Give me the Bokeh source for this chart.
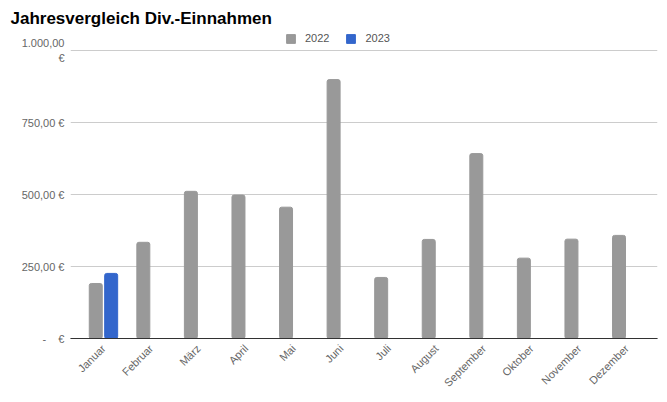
import math
from bokeh.plotting import figure
from bokeh.models import (ColumnDataSource, Range1d, FixedTicker, Legend, LegendItem, Span, Title)
from bokeh.embed import file_html
from bokeh.resources import INLINE

months = ["Januar", "Februar", "März", "April", "Mai", "Juni", "Juli",
          "August", "September", "Oktober", "November", "Dezember"]
values_2022 = [191, 334, 511, 498, 456, 899, 212, 344, 642, 279, 345, 358]
values_2023 = [226]  # only Januar
y_ticks = [0, 250, 500, 750, 1000]
y_tick_labels = ["-\u00a0\u00a0\u00a0\u00a0€", "250,00 €", "500,00 €", "750,00 €", "1.000,00\n€"]

FONT = "Liberation Sans"
GRAY = "#999999"
BLUE = "#3366cc"

off = 0.162
bw = 0.273

src22 = ColumnDataSource(dict(x=[i - off for i in range(len(months))], top=values_2022))
src23 = ColumnDataSource(dict(x=[i + off for i in range(len(values_2023))], top=values_2023))

p = figure(width=665, height=400, output_backend="svg", toolbar_location=None,
           x_range=Range1d(-0.693, 11.647), y_range=Range1d(0, 1076.4),
           min_border_left=70, min_border_right=8, min_border_top=28, min_border_bottom=62)
p.outline_line_color = None
p.background_fill_color = "white"
p.border_fill_color = "white"

r22 = p.vbar(x="x", top="top", width=bw, source=src22, color=GRAY, border_radius=2)
r23 = p.vbar(x="x", top="top", width=bw, source=src23, color=BLUE, border_radius=2)

# axes
p.xaxis.ticker = FixedTicker(ticks=list(range(len(months))))
p.xaxis.major_label_overrides = {i: m for i, m in enumerate(months)}
p.xaxis.major_label_orientation = math.pi / 4
p.xaxis.major_tick_line_color = None
p.xaxis.minor_tick_line_color = None
p.xaxis.axis_line_color = "#333333"
p.xaxis.axis_line_width = 1
p.xaxis.major_label_text_font = FONT
p.xaxis.major_label_text_font_size = "11px"
p.xaxis.major_label_text_color = "#666666"
p.xaxis.major_label_standoff = 2
p.xgrid.grid_line_color = None

p.yaxis.ticker = FixedTicker(ticks=y_ticks)
p.yaxis.major_label_overrides = {t: l for t, l in zip(y_ticks, y_tick_labels)}
p.yaxis.axis_line_color = None
p.yaxis.major_tick_line_color = None
p.yaxis.minor_tick_line_color = None
p.yaxis.major_label_text_font = FONT
p.yaxis.major_label_text_font_size = "11px"
p.yaxis.major_label_text_color = "#666666"
p.yaxis.major_label_standoff = 0
p.ygrid.grid_line_color = "#cccccc"

p.add_layout(Span(location=0, dimension="width", line_color="#333333", line_width=1))

legend = Legend(items=[LegendItem(label="2022", renderers=[r22]),
                       LegendItem(label="2023", renderers=[r23])],
                orientation="horizontal", location=(215, 294),
                label_text_font=FONT, label_text_font_size="11px", label_text_color="#555555",
                glyph_width=11, glyph_height=11, label_standoff=9, spacing=16,
                padding=0, margin=0, border_line_color=None, background_fill_alpha=0)
p.add_layout(legend)

title = Title(text="Jahresvergleich Div.-Einnahmen", text_font=FONT, text_font_size="17px",
              text_font_style="bold", text_color="#000000", align="left", offset=-60,
              standoff=1)
p.add_layout(title, "above")

open("out.html", "w").write(file_html(p, INLINE))
